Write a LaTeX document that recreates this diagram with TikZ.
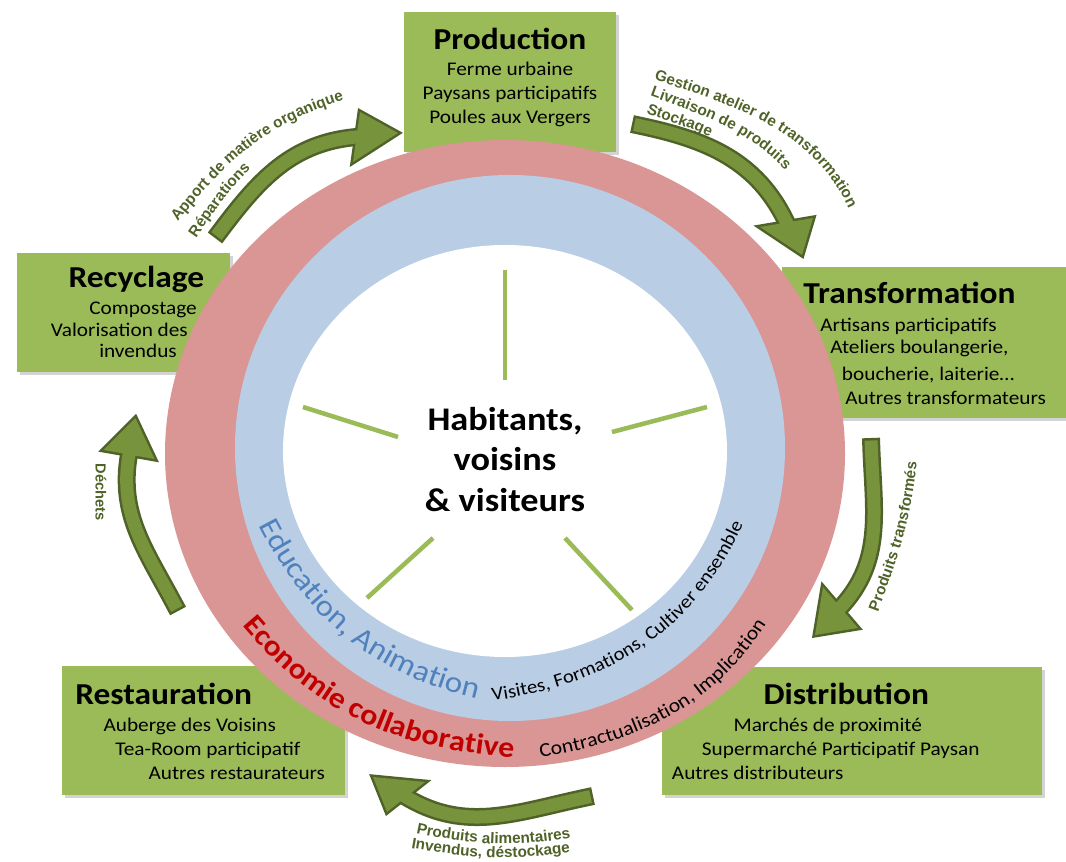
\documentclass[tikz,border=0pt]{standalone}
\usepackage{fontspec}
\usetikzlibrary{decorations.text,shadows}
\newfontfamily\calbox[FakeStretch=1.1,WordSpace=1.8]{Carlito}
\newfontfamily\calring[FakeStretch=1.1]{Carlito}
\newfontfamily\arlab{Liberation Sans}
\newcommand\lblfont{\arlab\bfseries\fontsize{11.5}{13}\selectfont}
\definecolor{boxgreen}{HTML}{9BBB59}
\definecolor{arrfill}{HTML}{77933C}
\definecolor{arrline}{HTML}{4F6228}
\definecolor{ringred}{HTML}{D99694}
\definecolor{ringblue}{HTML}{B9CDE5}
\definecolor{edublue}{HTML}{4F81BD}
\definecolor{ecored}{HTML}{C00000}
\definecolor{lbl}{HTML}{4F6228}
\begin{document}
\begin{tikzpicture}[x=0.75pt,y=0.75pt,
  greenbox/.style={rectangle, fill=boxgreen, inner sep=0pt,
    drop shadow={shadow xshift=2.5pt, shadow yshift=-2.5pt, opacity=0.35}},
  boxtitle/.style={inner sep=0pt, anchor=base, font=\calbox\bfseries\fontsize{22.8}{27}\selectfont},
  boxtitlew/.style={boxtitle, anchor=base west},
  boxline/.style={inner sep=0pt, anchor=base, font=\calbox\fontsize{14.5}{17}\selectfont},
  boxlinew/.style={boxline, anchor=base west},
  centertxt/.style={inner sep=0pt, anchor=base, font=\calring\bfseries\fontsize{24.75}{29}\selectfont},
  spoke/.style={draw=boxgreen, line width=3.4pt},
  shaftout/.style={draw=arrline, line width=13.5pt, line cap=rect},
  shaftin/.style={draw=arrfill, line width=9.75pt, line cap=rect},
  headout/.style={fill=arrline, draw=arrline, line width=3.75pt, line join=miter},
  headin/.style={fill=arrfill}
]
\useasboundingbox (0,0) rectangle (1066,861);

% ---------- boxes ----------
\node[greenbox, minimum width=159pt, minimum height=105pt] (prod) at (510,779) {};
\node[greenbox, minimum width=216pt, minimum height=113.25pt] (trans) at (926,518.5) {};
\node[greenbox, minimum width=159.75pt, minimum height=89.25pt] (recy) at (123.5,548.5) {};
\node[greenbox, minimum width=212.25pt, minimum height=96.75pt] (resto) at (203.5,130.5) {};
\node[greenbox, minimum width=285pt, minimum height=96pt] (distr) at (852,130) {};

\node[boxtitle] (prodT) at (510,811.7) {Production};
\node[boxline] (prod1) at (510,785) {Ferme urbaine};
\node[boxline] (prod2) at (510,761) {Paysans participatifs};
\node[boxline] (prod3) at (510,737) {Poules aux Vergers};

\node[boxtitlew] (transT) at (803,557) {Transformation};
\node[boxlinew] (trans1) at (820,529.3) {Artisans participatifs};
\node[boxlinew] (trans2) at (830,507) {Ateliers boulangerie,};
\node[boxlinew] (trans3) at (841.7,480.3) {boucherie, laiterie…};
\node[boxlinew] (trans4) at (845,456) {Autres transformateurs};

\node[boxtitlew] (recyT) at (68.3,573.3) {Recyclage};
\node[boxlinew] (recy1) at (89,546) {Compostage};
\node[boxlinew] (recy2) at (50.7,524.3) {Valorisation des};
\node[boxlinew] (recy3) at (99,503) {invendus};

\node[boxtitlew] (restoT) at (75,156.7) {Restauration};
\node[boxlinew] (resto1) at (103.3,129.3) {Auberge des Voisins};
\node[boxlinew] (resto2) at (115,106) {Tea-Room participatif};
\node[boxlinew] (resto3) at (148.3,81.7) {Autres restaurateurs};

\node[boxtitlew] (distrT) at (763.3,156.7) {Distribution};
\node[boxlinew] (distr1) at (733.3,129.3) {Marchés de proximité};
\node[boxlinew] (distr2) at (701.7,106) {Supermarché Participatif Paysan};
\node[boxlinew] (distr3) at (671.7,81.7) {Autres distributeurs};

% ---------- rings ----------
\fill[ringred] (505,407.5) ellipse [x radius=340, y radius=313.5];
\fill[ringblue] (510,413) ellipse [x radius=275, y radius=273];
\fill[white] (505,410) ellipse [x radius=222, y radius=206];

% ---------- spokes ----------
\coordinate (s1a) at (505,591); \coordinate (s1b) at (505,481);
\coordinate (s2a) at (303,454); \coordinate (s2b) at (398,424);
\coordinate (s3a) at (612,429); \coordinate (s3b) at (707,454);
\coordinate (s4a) at (433,323); \coordinate (s4b) at (367,263);
\coordinate (s5a) at (565,323); \coordinate (s5b) at (632,251);
\draw[spoke] (s1a) -- (s1b);
\draw[spoke] (s2a) -- (s2b);
\draw[spoke] (s3a) -- (s3b);
\draw[spoke] (s4a) -- (s4b);
\draw[spoke] (s5a) -- (s5b);

% ---------- centre ----------
\node[centertxt] (hab1) at (505,431) {Habitants,};
\node[centertxt] (hab2) at (505,390.3) {voisins};
\node[centertxt] (hab3) at (505,349.3) {\& visiteurs};

% ---------- ring texts ----------
\path[decorate, decoration={text along path, text color=edublue,
  text={|\calring\fontsize{22.5}{26}\selectfont|Education, Animation}}]
  (259,336) to[out=-63,in=168] (491,159);
\path[decorate, decoration={text along path, text color=black,
  text={|\calring\fontsize{14.1}{17}\selectfont|Visites, Formations, Cultiver ensemble}}]
  (492.7,160.2) to[out=8,in=248] (749,351);
\path[decorate, decoration={text along path, text color=ecored,
  text={|\calring\bfseries\fontsize{21.8}{26}\selectfont|Economie collaborative}}]
  (242.3,235.6) to[out=-50,in=177] (530,102.5);
\path[decorate, decoration={text along path, text color=black,
  text={|\calring\fontsize{14.8}{17}\selectfont|Contractualisation, Implication}}]
  (540.5,103.1) to[out=10,in=240] (776,253);

% ---------- arrows ----------
% 1 recyclage -> production
\coordinate (a1t) at (220.4,630.2); \coordinate (a1b) at (356.5,724);
\coordinate (a1p) at (360,749); \coordinate (a1q) at (353,699); \coordinate (a1h) at (398,728);
\draw[shaftout] (a1t) to[out=53,in=185] (a1b);
\filldraw[headout] (a1p) -- (a1h) -- (a1q) -- cycle;
\draw[shaftin] (a1t) to[out=53,in=185] (a1b);
\fill[headin] (a1p) -- (a1h) -- (a1q) -- cycle;
% 2 production -> transformation
\coordinate (a2t) at (640.8,735.1); \coordinate (a2b) at (786.5,638.5);
\coordinate (a2p) at (760,634); \coordinate (a2q) at (813,643); \coordinate (a2h) at (802,606);
\draw[shaftout] (a2t) to[out=-12,in=115.5] (a2b);
\filldraw[headout] (a2p) -- (a2h) -- (a2q) -- cycle;
\draw[shaftin] (a2t) to[out=-12,in=115.5] (a2b);
\fill[headin] (a2p) -- (a2h) -- (a2q) -- cycle;
% 3 transformation -> distribution
\coordinate (a3t) at (871.3,414); \coordinate (a3b) at (840.5,253.5);
\coordinate (a3p) at (823,274); \coordinate (a3q) at (858,233); \coordinate (a3h) at (815,226);
\draw[shaftout] (a3t) to[out=-88,in=47] (a3b);
\filldraw[headout] (a3p) -- (a3h) -- (a3q) -- cycle;
\draw[shaftin] (a3t) to[out=-88,in=47] (a3b);
\fill[headin] (a3p) -- (a3h) -- (a3q) -- cycle;
% 4 distribution -> restauration
\coordinate (a4t) at (584.2,63.1); \coordinate (a4b) at (406,64);
\coordinate (a4p) at (425,79); \coordinate (a4q) at (387,49); \coordinate (a4h) at (373,84);
\draw[shaftout] (a4t) to[out=192,in=329] (a4b);
\filldraw[headout] (a4p) -- (a4h) -- (a4q) -- cycle;
\draw[shaftin] (a4t) to[out=192,in=329] (a4b);
\fill[headin] (a4p) -- (a4h) -- (a4q) -- cycle;
% 5 restauration -> recyclage
\coordinate (a5t) at (173.8,257.9); \coordinate (a5b) at (129,406.5);
\coordinate (a5p) at (103.4,411); \coordinate (a5q) at (154.6,402); \coordinate (a5h) at (135.4,442.9);
\draw[shaftout] (a5t) to[out=118,in=260] (a5b);
\filldraw[headout] (a5p) -- (a5h) -- (a5q) -- cycle;
\draw[shaftin] (a5t) to[out=118,in=260] (a5b);
\fill[headin] (a5p) -- (a5h) -- (a5q) -- cycle;

% ---------- arrow labels ----------
\path[decorate, decoration={text along path, text color=lbl,
  text={|\lblfont|Gestion atelier de transformation}}]
  (654,781) to[out=-17,in=105] (860,621);
\path[decorate, decoration={text along path, text color=lbl,
  text={|\lblfont|Livraison de produits}}]
  (650,765) to[out=-20,in=125] (805,666);
\path[decorate, decoration={text along path, text color=lbl,
  text={|\lblfont|Stockage}}]
  (646,748) to[out=-20,in=150] (735,711);
\path[decorate, decoration={text along path, text color=lbl,
  text={|\lblfont|Apport de matière organique}}]
  (178,639) to[out=52,in=196] (352,763);
\path[decorate, decoration={text along path, text color=lbl,
  text={|\lblfont|Réparations}}]
  (196,623) to[out=55,in=220] (265,705);
\path[decorate, decoration={text along path, text color=lbl,
  text={|\lblfont|Produits transformés}}]
  (878,249) to[out=70,in=-95] (918,410);
\node[rotate=-90, inner sep=0pt, text=lbl, font=\arlab\bfseries\fontsize{11}{13}\selectfont] (dech) at (101,369) {Déchets};
\path[decorate, decoration={text along path, text color=lbl,
  text={|\lblfont|Produits alimentaires}}]
  (416,28) to[out=-12,in=192] (595,28);
\path[decorate, decoration={text along path, text color=lbl,
  text={|\lblfont|Invendus, déstockage}}]
  (411,13) to[out=-10,in=190] (590,12);
\end{tikzpicture}
\end{document}
